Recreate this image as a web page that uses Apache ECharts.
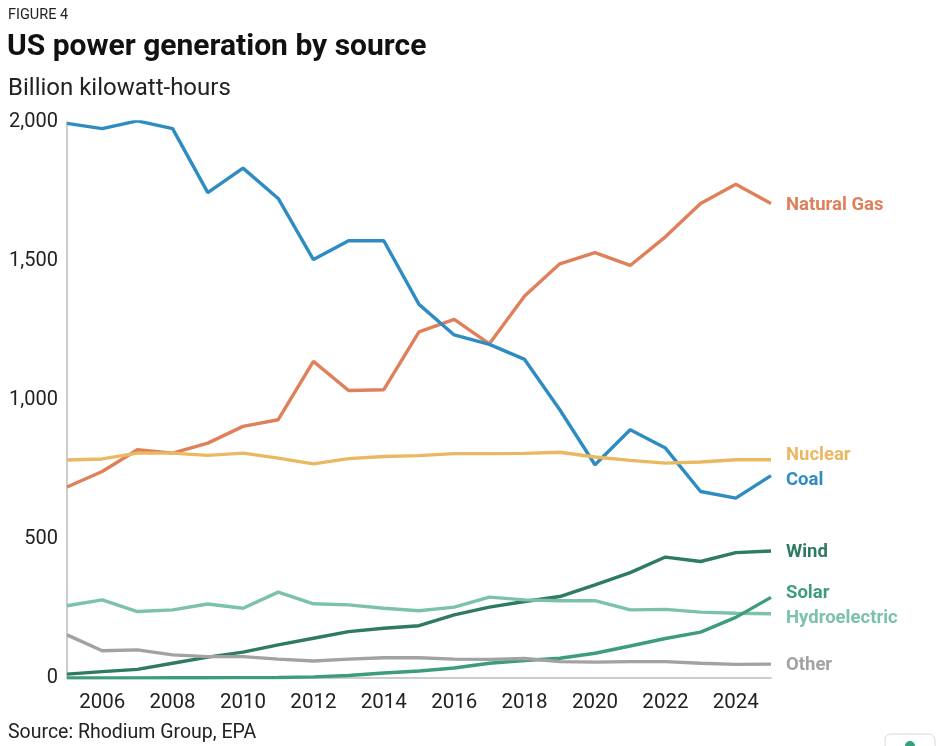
<!DOCTYPE html>
<html>
<head>
<meta charset="utf-8">
<script src="https://cdn.jsdelivr.net/npm/echarts@6/dist/echarts.min.js"></script>
<style>
html,body{margin:0;padding:0;background:#fff;}
#chart{width:936px;height:746px;}
</style>
</head>
<body>
<div id="chart"></div>
<script>
const years = ['2005','2006','2007','2008','2009','2010','2011','2012','2013','2014','2015','2016','2017','2018','2019','2020','2021','2022','2023','2024','2025'];
const coal = [1995,1976,2004,1976,1746,1834,1725,1505,1573,1573,1344,1234,1200,1146,965,767,893,827,671,647,728];
const naturalGas = [687,743,821,809,845,905,929,1139,1034,1037,1245,1290,1202,1374,1490,1530,1484,1587,1707,1776,1707];
const nuclear = [784,788,809,809,801,809,791,770,789,797,800,807,807,808,812,795,783,773,777,785,785];
const wind = [14,23,31,53,75,93,119,143,167,179,188,227,255,275,293,335,379,435,419,451,457];
const solar = [0.5,0.5,0.6,0.9,1,1.2,2,4,9,18,25,36,53,63,71,89,115,142,165,218,290];
const hydro = [260,281,239,245,266,251,309,267,263,251,242,255,291,281,278,278,245,247,237,233,231];
const other = [155,98,101,83,77,77,68,61,68,73,73,68,67,70,59,57,59,59,53,49,50];
const yTicks = [0,500,1000,1500,2000];

const seriesDefs = [
  {name:'Natural Gas', data:naturalGas, color:'#e0805b', dy:2},
  {name:'Coal', data:coal, color:'#2e8cc2', dy:5},
  {name:'Nuclear', data:nuclear, color:'#ebb862', dy:-4},
  {name:'Wind', data:wind, color:'#2f7a62', dy:1},
  {name:'Hydroelectric', data:hydro, color:'#7cc2a9', dy:5},
  {name:'Solar', data:solar, color:'#3e9c7e', dy:-4},
  {name:'Other', data:other, color:'#a2a2a2', dy:1}
];

const chart = echarts.init(document.getElementById('chart'));
chart.setOption({
  backgroundColor:'#fff',
  animation:false,
  textStyle:{fontFamily:'Roboto'},
  title:[
    {text:'FIGURE 4', left:3, top:3, textStyle:{fontFamily:'Roboto', fontSize:14.5, fontWeight:'normal', color:'#222'}},
    {text:'US power generation by source', left:2, top:27, textStyle:{fontFamily:'Roboto', fontSize:30, fontWeight:'bold', color:'#111'}},
    {text:'Billion kilowatt-hours', left:3, top:72, textStyle:{fontFamily:'Roboto', fontSize:24, fontWeight:'normal', color:'#222'}},
    {text:'Source: Rhodium Group, EPA', left:3, top:718, textStyle:{fontFamily:'Roboto', fontSize:19.5, fontWeight:'normal', color:'#222'}}
  ],
  grid:{left:67, right:165, top:122, bottom:68},
  xAxis:{
    type:'category', data:years, boundaryGap:false,
    axisLine:{show:true, lineStyle:{color:'#cccccc', width:2}},
    axisTick:{show:false},
    axisLabel:{fontFamily:'Roboto', fontSize:20.5, color:'#222', margin:14,
      interval:function(i,v){return parseInt(v)%2===0;}}
  },
  yAxis:{
    type:'value', min:0, max:2000, interval:500,
    axisLine:{show:true, lineStyle:{color:'#cccccc', width:2}},
    axisTick:{show:false},
    splitLine:{show:false},
    axisLabel:{fontFamily:'Roboto', fontSize:20, color:'#222', margin:9,
      formatter:function(v){return yTicks.indexOf(v)>=0 ? v.toLocaleString('en-US') : '';}}
  },
  series: seriesDefs.map(s=>({
    name:s.name, type:'line', data:s.data, symbol:'none',
    lineStyle:{color:s.color, width:3.4},
    itemStyle:{color:s.color},
    endLabel:{show:true, formatter:s.name, distance:15, offset:[0,s.dy],
      color:s.color, fontFamily:'Roboto', fontSize:18.5, fontWeight:'bold'}
  })),
  graphic:[
    {type:'rect', shape:{x:885, y:734, width:50, height:30, r:6}, style:{fill:'#fff', stroke:'#d8d8d8', lineWidth:1}},
    {type:'circle', shape:{cx:910, cy:746, r:5}, style:{fill:'#2fa37e'}}
  ]
});
</script>
</body>
</html>
